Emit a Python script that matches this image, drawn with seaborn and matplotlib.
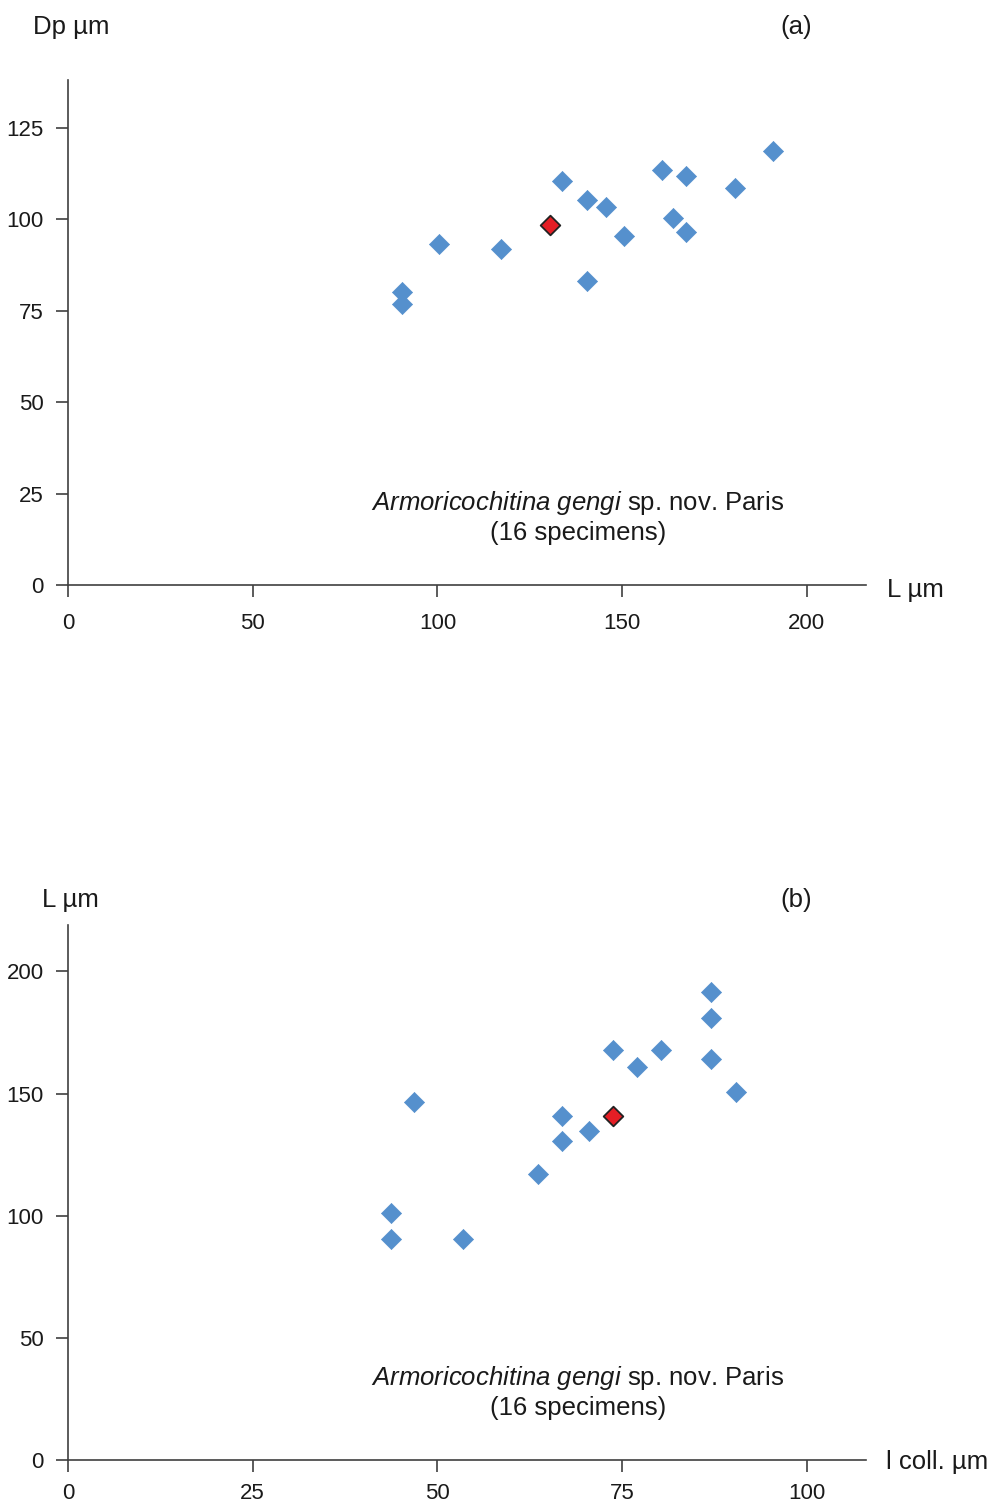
import matplotlib
matplotlib.use("Agg")
import matplotlib.pyplot as plt
import seaborn as sns
import pandas as pd

# ---- data: panel (a) Dp vs L ----
a_L = [90.5, 90.5, 100.5, 117.1, 133.8, 140.5, 145.6, 140.5, 150.6, 160.7, 167.3, 163.8, 167.3, 180.5, 190.9]
a_Dp = [80.0, 76.7, 93.3, 91.7, 110.3, 105.1, 103.4, 83.2, 95.3, 113.5, 111.8, 100.2, 96.5, 108.4, 118.5]
a_red_L = [130.6]
a_red_Dp = [98.4]

# ---- data: panel (b) L vs l coll. ----
b_lcoll = [87.0, 87.0, 73.7, 80.2, 87.0, 77.0, 90.4, 46.8, 66.9, 70.5, 66.9, 63.6, 43.7, 43.7, 53.5]
b_L = [191.7, 181.0, 167.7, 167.7, 164.3, 160.9, 150.8, 146.4, 141.0, 134.5, 130.7, 117.2, 101.1, 90.4, 90.4]
b_red_lcoll = [73.7]
b_red_L = [141.0]

a_xticks = [0, 50, 100, 150, 200]
a_yticks = [0, 25, 50, 75, 100, 125]
b_xticks = [0, 25, 50, 75, 100]
b_yticks = [0, 50, 100, 150, 200]

species_italic = "Armoricochitina\\ gengi"
species_rest = " sp. nov. Paris"
species_line2 = "(16 specimens)"

sns.set_style("ticks")
plt.rcParams["font.family"] = ["Liberation Sans", "DejaVu Sans"]
plt.rcParams["mathtext.fontset"] = "custom"
plt.rcParams["mathtext.rm"] = "Liberation Sans"
plt.rcParams["mathtext.it"] = "Liberation Sans:italic"

W, H = 993, 1506
fig = plt.figure(figsize=(W / 100, H / 100), dpi=100)

BLUE = "#5590CD"
RED = "#E41E25"
AXC = "#404040"
TC = "#1a1a1a"
FS = 16
FL = 18.5


def fx(px):
    return px / W


def fy(py):
    return 1 - py / H


def style_axes(ax, xlim, ylim, xticks, yticks, xpad):
    ax.set_xlim(*xlim)
    ax.set_ylim(*ylim)
    ax.set_xticks(xticks)
    ax.set_yticks(yticks)
    for s in ["top", "right"]:
        ax.spines[s].set_visible(False)
    for s in ["left", "bottom"]:
        ax.spines[s].set_color(AXC)
        ax.spines[s].set_linewidth(1.2)
    ax.tick_params(axis="both", direction="out", length=8.5, width=1.2,
                   color=AXC, labelsize=FS, labelcolor=TC)
    ax.tick_params(axis="x", pad=xpad)
    ax.tick_params(axis="y", pad=9)
    ax.set_xlabel("")
    ax.set_ylabel("")
    ax.patch.set_alpha(0)


# panel (a)
ax1 = fig.add_axes([fx(68), fy(585), fx(866) - fx(68), fy(80) - fy(585)])
dfa = pd.DataFrame({"L": a_L, "Dp": a_Dp})
dfa_r = pd.DataFrame({"L": a_red_L, "Dp": a_red_Dp})
sns.scatterplot(data=dfa, x="L", y="Dp", marker="D", s=105, color=BLUE,
                edgecolor=BLUE, linewidth=0.5, ax=ax1, zorder=3, clip_on=False)
sns.scatterplot(data=dfa_r, x="L", y="Dp", marker="D", s=100, color=RED,
                edgecolor="#222222", linewidth=1.3, ax=ax1, zorder=4, clip_on=False)
style_axes(ax1, (0, 216), (0, 138), a_xticks, a_yticks, 12)

# panel (b)
ax2 = fig.add_axes([fx(68), fy(1460), fx(866) - fx(68), fy(925) - fy(1460)])
dfb = pd.DataFrame({"lcoll": b_lcoll, "L": b_L})
dfb_r = pd.DataFrame({"lcoll": b_red_lcoll, "L": b_red_L})
sns.scatterplot(data=dfb, x="lcoll", y="L", marker="D", s=105, color=BLUE,
                edgecolor=BLUE, linewidth=0.5, ax=ax2, zorder=3, clip_on=False)
sns.scatterplot(data=dfb_r, x="lcoll", y="L", marker="D", s=100, color=RED,
                edgecolor="#222222", linewidth=1.3, ax=ax2, zorder=4, clip_on=False)
style_axes(ax2, (0, 108), (0, 219), b_xticks, b_yticks, 8)

# axis titles and panel letters
fig.text(fx(33), fy(27), "Dp \u00b5m", fontsize=FL, ha="left", va="center", color=TC)
fig.text(fx(796), fy(27), "(a)", fontsize=FL, ha="center", va="center", color=TC)
fig.text(fx(887), fy(590), "L \u00b5m", fontsize=FL, ha="left", va="center", color=TC)

fig.text(fx(42), fy(900), "L \u00b5m", fontsize=FL, ha="left", va="center", color=TC)
fig.text(fx(796), fy(900), "(b)", fontsize=FL, ha="center", va="center", color=TC)
fig.text(fx(886), fy(1462), "l coll. \u00b5m", fontsize=FL, ha="left", va="center", color=TC)

# species annotations
line1 = r"$\it{" + species_italic + "}$" + species_rest
for y1, y2 in [(503, 533), (1378, 1408)]:
    fig.text(fx(578), fy(y1), line1, fontsize=FL, ha="center", va="center", color=TC)
    fig.text(fx(578), fy(y2), species_line2, fontsize=FL, ha="center", va="center", color=TC)

fig.savefig("out.png", dpi=100, facecolor="white")
